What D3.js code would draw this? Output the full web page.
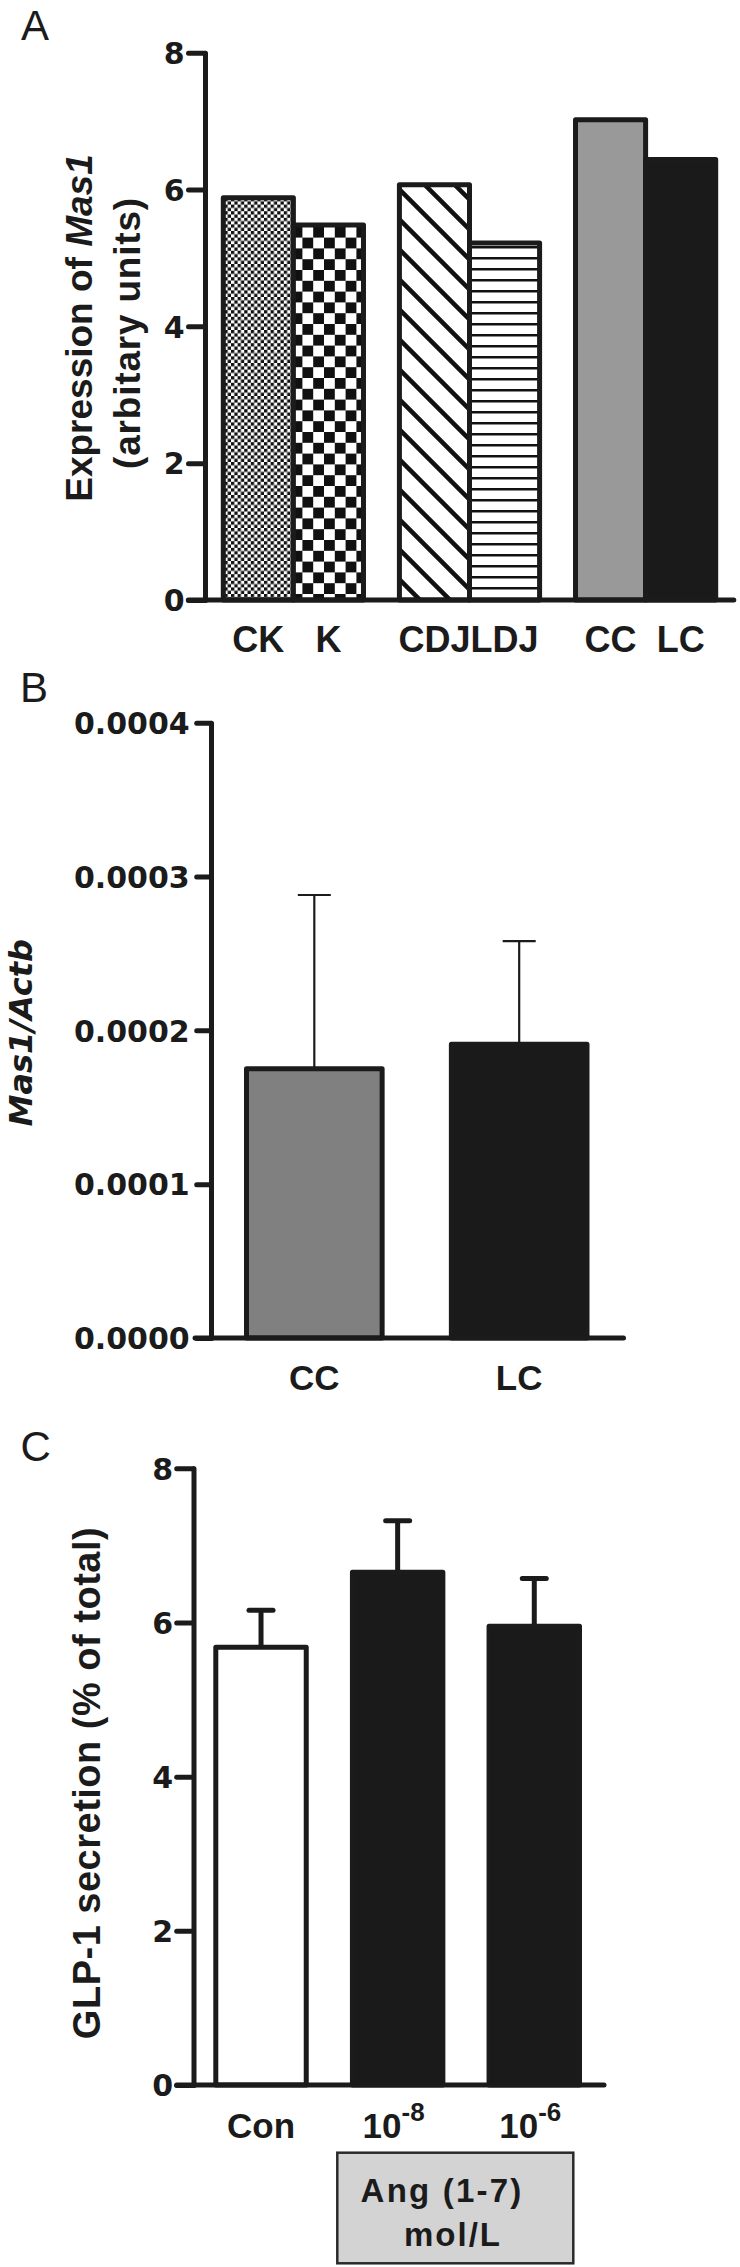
<!DOCTYPE html>
<html><head><meta charset="utf-8">
<script src="https://cdn.jsdelivr.net/npm/d3@7"></script>
<style>body{margin:0;background:#fff}svg{display:block}</style>
</head><body>
<svg id="c" width="740" height="2267"></svg>
<script>
// ---------- DATA ----------
// Panel A
const groupsA = [["CK","K"],["CDJ","LDJ"],["CC","LC"]];
const catsA = ["CK","K","CDJ","LDJ","CC","LC"];
const valuesA = [5.88, 5.48, 6.07, 5.22, 7.02, 6.44];
const ticksA = [0, 2, 4, 6, 8];
// Panel B
const catsB = ["CC","LC"];
const valuesB = [0.000175, 0.000191];
const errorsB = [0.000113, 0.000067];
const ticksB = [0, 0.0001, 0.0002, 0.0003, 0.0004];
// Panel C
const catsC = ["Con","10^-8","10^-6"];
const valuesC = [5.68, 6.65, 5.95];
const errorsC = [0.48, 0.67, 0.62];
const ticksC = [0, 2, 4, 6, 8];

// ---------- STYLE ----------
const INK = "#1b1b1b";
const fillsA = ["url(#fineCheck)","url(#coarseCheck)","url(#diag)","url(#hlines)","#999999","#1a1a1a"];
const fillsB = ["#808080","#1a1a1a"];
const fillsC = ["#ffffff","#1a1a1a","#1a1a1a"];
const SANS = "'Liberation Sans', Arial, sans-serif";
const TICKF = "'DejaVu Sans', sans-serif";

const svg = d3.select("#c");
const defs = svg.append("defs");

function checker(id, cell){
  const p = defs.append("pattern").attr("id",id).attr("patternUnits","userSpaceOnUse")
    .attr("width",cell*2).attr("height",cell*2);
  p.append("rect").attr("width",cell*2).attr("height",cell*2).attr("fill","#fff");
  p.append("rect").attr("width",cell).attr("height",cell).attr("fill","#111");
  p.append("rect").attr("x",cell).attr("y",cell).attr("width",cell).attr("height",cell).attr("fill","#111");
}
checker("fineCheck", 3.3);
checker("coarseCheck", 10.8);
const dp = defs.append("pattern").attr("id","diag").attr("patternUnits","userSpaceOnUse").attr("width",30).attr("height",30);
dp.append("rect").attr("width",30).attr("height",30).attr("fill","#fff");
dp.append("path").attr("d","M-5,-5L35,35M-5,25L5,35M25,-5L35,5").attr("stroke","#111").attr("stroke-width",4.5);
const hp = defs.append("pattern").attr("id","hlines").attr("patternUnits","userSpaceOnUse").attr("width",10).attr("height",11);
hp.append("rect").attr("width",10).attr("height",11).attr("fill","#fff");
hp.append("rect").attr("y",4).attr("width",10).attr("height",2.5).attr("fill","#111");

function styleAxis(g, size){
  g.select(".domain").attr("stroke",INK).attr("stroke-width",5).attr("stroke-linecap","round");
  g.selectAll(".tick line").attr("stroke",INK).attr("stroke-width",5).attr("stroke-linecap","round");
  g.selectAll(".tick text").attr("fill",INK).attr("font-family",TICKF).attr("font-weight","bold")
    .attr("font-size",size).attr("dy","0.36em");
  g.attr("font-family",null).attr("font-size",null);
}
function panelLetter(t, x, y){
  svg.append("text").attr("x",x).attr("y",y).attr("font-family",SANS).attr("font-size",42)
    .attr("fill",INK).text(t);
}
function baseline(x1, x2, y){
  svg.append("line").attr("x1",x1).attr("x2",x2).attr("y1",y).attr("y2",y)
    .attr("stroke",INK).attr("stroke-width",5).attr("stroke-linecap","round");
}

// ---------- PANEL A ----------
panelLetter("A", 21, 40);
const yA = d3.scaleLinear().domain([0, 8]).range([600, 52.7]);
const gxA = d3.scaleBand().domain(d3.range(groupsA.length)).range([223.3, 715.7]).paddingInner(0.204);
const ixA = d3.scaleBand().domain([0,1]).range([0, gxA.bandwidth()]);
const xA = c => { const gi = groupsA.findIndex(g => g.includes(c)); return gxA(gi) + ixA(groupsA[gi].indexOf(c)); };
const dataA = catsA.map((c,i) => ({c, v: valuesA[i], f: fillsA[i]}));

svg.append("g").selectAll("rect").data(dataA).join("rect")
  .attr("x", d => xA(d.c)).attr("width", ixA.bandwidth())
  .attr("y", d => yA(d.v)).attr("height", d => yA(0) - yA(d.v))
  .attr("fill", d => d.f).attr("stroke", INK).attr("stroke-width", 5).attr("stroke-linejoin","round");

baseline(188.3, 733.8, yA(0));
const axA = svg.append("g").attr("transform","translate(205,0)")
  .call(d3.axisLeft(yA).tickValues(ticksA).tickSize(16.5).tickSizeOuter(0).tickPadding(4).tickFormat(d3.format("d")));
styleAxis(axA, 30);

svg.append("g").selectAll("text").data(dataA).join("text")
  .attr("x", d => xA(d.c) + ixA.bandwidth()/2).attr("y", 651.7)
  .attr("text-anchor","middle").attr("font-family",SANS).attr("font-weight","bold").attr("font-size",36)
  .attr("fill",INK).text(d => d.c);

const ylA1 = svg.append("text").attr("transform","translate(91.7,328) rotate(-90)").attr("text-anchor","middle")
  .attr("font-family",SANS).attr("font-weight","bold").attr("font-size",37).attr("fill",INK);
ylA1.append("tspan").text("Expression of ");
ylA1.append("tspan").attr("font-style","italic").text("Mas1");
svg.append("text").attr("transform","translate(140,333) rotate(-90)").attr("text-anchor","middle")
  .attr("font-family",SANS).attr("font-weight","bold").attr("font-size",37).attr("letter-spacing",0.8)
  .attr("fill",INK).text("(arbitary units)");

// ---------- PANEL B ----------
panelLetter("B", 20, 702);
const yB = d3.scaleLinear().domain([0, 0.0004]).range([1338, 722.7]);
const xB = d3.scaleBand().domain(catsB).range([246.5, 587]).paddingInner(0.338);
const dataB = catsB.map((c,i) => ({c, v: valuesB[i], e: errorsB[i], f: fillsB[i]}));

const ebB = svg.append("g").selectAll("g").data(dataB).join("g");
ebB.append("line").attr("x1", d => xB(d.c) + xB.bandwidth()/2).attr("x2", d => xB(d.c) + xB.bandwidth()/2)
  .attr("y1", d => yB(d.v)).attr("y2", d => yB(d.v + d.e)).attr("stroke",INK).attr("stroke-width",2.2);
ebB.append("line").attr("x1", d => xB(d.c) + xB.bandwidth()/2 - 16.5).attr("x2", d => xB(d.c) + xB.bandwidth()/2 + 16.5)
  .attr("y1", d => yB(d.v + d.e)).attr("y2", d => yB(d.v + d.e)).attr("stroke",INK).attr("stroke-width",2.2);

svg.append("g").selectAll("rect").data(dataB).join("rect")
  .attr("x", d => xB(d.c)).attr("width", xB.bandwidth())
  .attr("y", d => yB(d.v)).attr("height", d => yB(0) - yB(d.v))
  .attr("fill", d => d.f).attr("stroke", INK).attr("stroke-width", 5).attr("stroke-linejoin","round");

baseline(195, 623.5, yB(0));
const axB = svg.append("g").attr("transform","translate(211,0)")
  .call(d3.axisLeft(yB).tickValues(ticksB).tickSize(14.3).tickSizeOuter(0).tickPadding(7).tickFormat(d3.format(".4f")));
styleAxis(axB, 30);

svg.append("g").selectAll("text").data(dataB).join("text")
  .attr("x", d => xB(d.c) + xB.bandwidth()/2).attr("y", 1390)
  .attr("text-anchor","middle").attr("font-family",SANS).attr("font-weight","bold").attr("font-size",35)
  .attr("fill",INK).text(d => d.c);

svg.append("text").attr("transform","translate(31.7,1032.7) rotate(-90)").attr("text-anchor","middle")
  .attr("font-family",TICKF).attr("font-weight","bold").attr("font-style","italic").attr("font-size",32)
  .attr("fill",INK).text("Mas1/Actb");

// ---------- PANEL C ----------
panelLetter("C", 20.5, 1461);
const yC = d3.scaleLinear().domain([0, 8]).range([2085, 1468.3]);
const xC = d3.scaleBand().domain(catsC).range([215.8, 579.5]).paddingInner(0.338);
const dataC = catsC.map((c,i) => ({c, v: valuesC[i], e: errorsC[i], f: fillsC[i]}));

const ebC = svg.append("g").selectAll("g").data(dataC).join("g");
ebC.append("line").attr("x1", d => xC(d.c) + xC.bandwidth()/2).attr("x2", d => xC(d.c) + xC.bandwidth()/2)
  .attr("y1", d => yC(d.v)).attr("y2", d => yC(d.v + d.e)).attr("stroke",INK).attr("stroke-width",5);
ebC.append("line").attr("x1", d => xC(d.c) + xC.bandwidth()/2 - 12).attr("x2", d => xC(d.c) + xC.bandwidth()/2 + 12)
  .attr("y1", d => yC(d.v + d.e)).attr("y2", d => yC(d.v + d.e)).attr("stroke",INK).attr("stroke-width",5)
  .attr("stroke-linecap","round");

svg.append("g").selectAll("rect").data(dataC).join("rect")
  .attr("x", d => xC(d.c)).attr("width", xC.bandwidth())
  .attr("y", d => yC(d.v)).attr("height", d => yC(0) - yC(d.v))
  .attr("fill", d => d.f).attr("stroke", INK).attr("stroke-width", 5).attr("stroke-linejoin","round");

baseline(176.7, 604, yC(0));
const axC = svg.append("g").attr("transform","translate(193.5,0)")
  .call(d3.axisLeft(yC).tickValues(ticksC).tickSize(16.8).tickSizeOuter(0).tickPadding(3.5).tickFormat(d3.format("d")));
styleAxis(axC, 30);

const labC = svg.append("g").selectAll("text").data(dataC).join("text")
  .attr("x", (d,i) => xC(d.c) + xC.bandwidth()/2 - (i ? 4 : 0)).attr("y", 2138)
  .attr("text-anchor","middle").attr("font-family",SANS).attr("font-weight","bold").attr("font-size",35)
  .attr("fill",INK);
labC.each(function(d){
  const parts = d.c.split("^");
  const t = d3.select(this);
  t.append("tspan").text(parts[0]);
  if (parts[1]) t.append("tspan").attr("font-size",26).attr("dy",-17).text(parts[1]);
});

svg.append("rect").attr("x",337.3).attr("y",2152.7).attr("width",236).attr("height",110.6)
  .attr("fill","#d3d3d3").attr("stroke","#2a2a2a").attr("stroke-width",2.5);
svg.append("text").attr("x",442).attr("y",2201.7).attr("text-anchor","middle")
  .attr("font-family",SANS).attr("font-weight","bold").attr("font-size",33).attr("letter-spacing",2.2)
  .attr("fill",INK).text("Ang (1-7)");
svg.append("text").attr("x",453).attr("y",2246).attr("text-anchor","middle")
  .attr("font-family",SANS).attr("font-weight","bold").attr("font-size",33).attr("letter-spacing",2)
  .attr("fill",INK).text("mol/L");

svg.append("text").attr("transform","translate(100,1783) rotate(-90)").attr("text-anchor","middle")
  .attr("font-family",SANS).attr("font-weight","bold").attr("font-size",38).attr("letter-spacing",0.5)
  .attr("fill",INK).text("GLP-1 secretion (% of total)");
</script>
</body></html>
